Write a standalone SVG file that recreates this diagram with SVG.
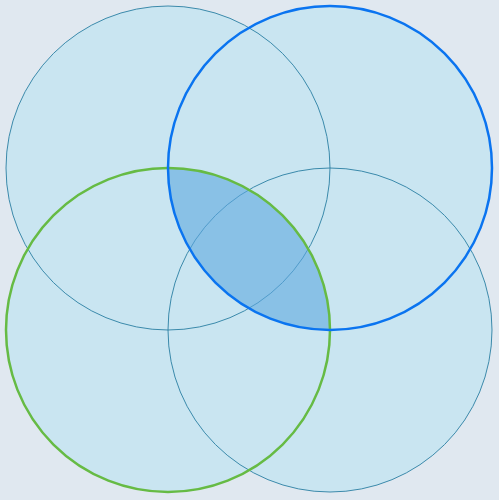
<svg xmlns="http://www.w3.org/2000/svg" width="499" height="500" viewBox="0 0 499 500">
<style>
.fill{fill:#c9e5f1;stroke:none}
.thin{fill:none;stroke:#2a7fa3;stroke-width:0.9}
.lens{fill:#5fa8e0;fill-opacity:0.6;stroke:none}
.blue{fill:none;stroke:#0a74f0;stroke-width:2.5}
.green{fill:none;stroke:#66bb44;stroke-width:2.5}
</style>
<rect width="499" height="500" fill="#e0e8f0"/>
<g id="fills">
<circle class="fill" cx="168" cy="168" r="162"/>
<circle class="fill" cx="330" cy="168" r="162"/>
<circle class="fill" cx="168" cy="330" r="162"/>
<circle class="fill" cx="330" cy="330" r="162"/>
</g>
<g id="circle-tl"><circle class="thin" cx="168" cy="168" r="162"/></g>
<g id="circle-br"><circle class="thin" cx="330" cy="330" r="162"/></g>
<g id="intersection"><path class="lens" d="M168,168 A162,162 0 0 1 330,330 A162,162 0 0 1 168,168 Z"/></g>
<g id="circle-bl"><circle class="green" cx="168" cy="330" r="162"/></g>
<g id="circle-tr"><circle class="blue" cx="330" cy="168" r="162"/></g>
</svg>
